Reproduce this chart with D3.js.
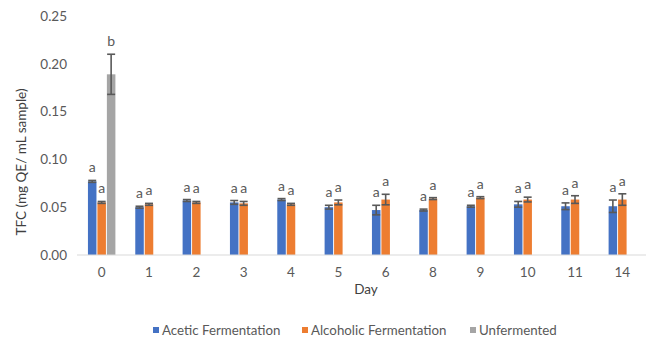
<!DOCTYPE html>
<html>
<head>
<meta charset="utf-8">
<script src="https://cdn.jsdelivr.net/npm/d3@7"></script>
<style>
  html, body { margin: 0; padding: 0; background: #fff; }
  svg { display: block; font-family: Lato, "Open Sans", sans-serif; }
</style>
</head>
<body>
<svg id="chart" width="651" height="338"></svg>
<script>
// Total flavonoid content by fermentation day
const days = ["0", "1", "2", "3", "4", "5", "6", "8", "9", "10", "11", "14"];
const seriesNames = ["Acetic Fermentation", "Alcoholic Fermentation", "Unfermented"];
const seriesColors = ["#4472C4", "#ED7D31", "#A5A5A5"];

const aceticMean   = [0.077, 0.050, 0.057, 0.055, 0.058, 0.050, 0.047, 0.047, 0.051, 0.053, 0.051, 0.051];
const aceticErr    = [0.001, 0.001, 0.001, 0.002, 0.001, 0.002, 0.005, 0.001, 0.001, 0.003, 0.0035, 0.0065];
const aceticSig    = ["a", "a", "a", "a", "a", "a", "a", "a", "a", "a", "a", "a"];

const alcoholicMean = [0.055, 0.053, 0.055, 0.054, 0.053, 0.055, 0.058, 0.059, 0.060, 0.058, 0.058, 0.058];
const alcoholicErr  = [0.001, 0.001, 0.001, 0.002, 0.001, 0.0025, 0.0055, 0.001, 0.001, 0.0025, 0.004, 0.006];
const alcoholicSig  = ["a", "a", "a", "a", "a", "a", "a", "a", "a", "a", "a", "a"];

const unfermentedMean = [0.189];
const unfermentedErr  = [0.021];
const unfermentedSig  = ["b"];

const yTicks = [0, 0.05, 0.10, 0.15, 0.20, 0.25];

const svg = d3.select("#chart");
const margin = { left: 78, right: 5, top: 16, bottom: 83 };
const W = 651, H = 338;
const textColor = "#595959";

const x0 = d3.scaleBand().domain(days)
  .range([margin.left, W - margin.right])
  .paddingInner(0.38).paddingOuter(0.19);
const x1 = d3.scaleBand().domain(seriesNames)
  .range([0, x0.bandwidth()])
  .padding(0.1);
const y = d3.scaleLinear().domain([0, 0.25]).range([H - margin.bottom, margin.top]);

const seriesData = [
  { name: seriesNames[0], mean: aceticMean, err: aceticErr, sig: aceticSig },
  { name: seriesNames[1], mean: alcoholicMean, err: alcoholicErr, sig: alcoholicSig },
  { name: seriesNames[2], mean: unfermentedMean, err: unfermentedErr, sig: unfermentedSig }
];

const points = [];
seriesData.forEach((s, si) => {
  s.mean.forEach((v, i) => {
    points.push({ day: days[i], series: s.name, si, value: v, err: s.err[i], sig: s.sig[i] });
  });
});

// Y axis labels (no axis line, no gridlines)
const yAxis = d3.axisLeft(y).tickValues(yTicks).tickFormat(d3.format(".2f")).tickSize(0).tickPadding(11);
const yg = svg.append("g").attr("transform", `translate(${margin.left},0)`).call(yAxis);
yg.select(".domain").remove();
yg.selectAll("text").attr("fill", textColor).style("font-size", "13.5px").style("font-family", "Lato, sans-serif");

// Bars
svg.append("g").selectAll("rect").data(points).join("rect")
  .attr("x", d => x0(d.day) + x1(d.series))
  .attr("y", d => y(d.value))
  .attr("width", x1.bandwidth())
  .attr("height", d => y(0) - y(d.value))
  .attr("fill", d => seriesColors[d.si]);

// Error bars
const eb = svg.append("g").attr("stroke", "#595959").attr("stroke-width", 1.6);
points.forEach(d => {
  const cx = x0(d.day) + x1(d.series) + x1.bandwidth() / 2;
  const y1 = y(d.value + d.err), y2 = y(d.value - d.err);
  eb.append("line").attr("x1", cx).attr("x2", cx).attr("y1", y1).attr("y2", y2);
  eb.append("line").attr("x1", cx - 4).attr("x2", cx + 4).attr("y1", y1).attr("y2", y1);
  eb.append("line").attr("x1", cx - 4).attr("x2", cx + 4).attr("y1", y2).attr("y2", y2);
});

// Significance letters
svg.append("g").selectAll("text").data(points).join("text")
  .attr("x", d => x0(d.day) + x1(d.series) + x1.bandwidth() / 2)
  .attr("y", d => y(d.value + d.err) - 8)
  .attr("text-anchor", "middle")
  .attr("fill", textColor)
  .style("font-size", "14px")
  .text(d => d.sig);

// X axis
const xAxis = d3.axisBottom(x0).tickSize(0).tickPadding(12);
const xg = svg.append("g").attr("transform", `translate(0,${y(0)})`).call(xAxis);
xg.select(".domain").attr("stroke", "#D9D9D9").attr("stroke-width", 1.2)
  .attr("d", `M${margin.left - 1},0H${W - margin.right}`);
xg.selectAll("text").attr("fill", textColor).style("font-size", "13.5px").style("font-family", "Lato, sans-serif");

// Axis titles
svg.append("text")
  .attr("x", (margin.left + W - margin.right) / 2 + 4)
  .attr("y", 294)
  .attr("text-anchor", "middle")
  .attr("fill", "#404040")
  .style("font-size", "13.5px")
  .text("Day");

svg.append("text")
  .attr("transform", `translate(26,162) rotate(-90)`)
  .attr("text-anchor", "middle")
  .attr("fill", "#404040")
  .style("font-size", "13.5px")
  .text("TFC (mg QE/ mL sample)");

// Legend
const legendX = [153, 302, 470];
const lg = svg.append("g");
seriesNames.forEach((n, i) => {
  lg.append("rect").attr("x", legendX[i]).attr("y", 327).attr("width", 6).attr("height", 6).attr("fill", seriesColors[i]);
  lg.append("text").attr("x", legendX[i] + 9).attr("y", 335)
    .attr("fill", textColor).style("font-size", "13.3px").text(n);
});
</script>
</body>
</html>
